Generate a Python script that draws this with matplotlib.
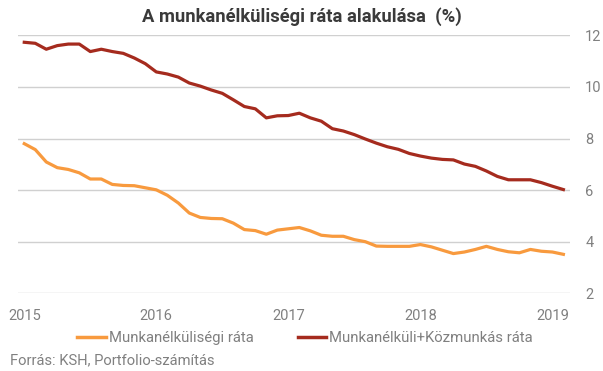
import numpy as np
import matplotlib
matplotlib.use('Agg')
import matplotlib.pyplot as plt
from matplotlib.lines import Line2D

# monthly data, Jan 2015 - Feb 2019
years = ['2015', '2016', '2017', '2018', '2019']
unemp = [7.8, 7.57, 7.09, 6.87, 6.8, 6.67, 6.43, 6.43, 6.22, 6.18, 6.17, 6.09,
         6.01, 5.8, 5.5, 5.11, 4.94, 4.9, 4.89, 4.72, 4.47, 4.43, 4.29, 4.45,
         4.5, 4.55, 4.42, 4.25, 4.21, 4.21, 4.08, 4.0, 3.83, 3.82, 3.82, 3.82,
         3.89, 3.8, 3.67, 3.54, 3.6, 3.7, 3.82, 3.7, 3.61, 3.57, 3.7, 3.63,
         3.6, 3.51]
unemp_pub = [11.73, 11.69, 11.46, 11.6, 11.66, 11.66, 11.37, 11.46, 11.37, 11.3, 11.12, 10.9,
             10.58, 10.5, 10.38, 10.15, 10.03, 9.88, 9.75, 9.5, 9.24, 9.15, 8.8, 8.88,
             8.89, 8.98, 8.8, 8.67, 8.38, 8.29, 8.15, 7.98, 7.82, 7.68, 7.58, 7.42,
             7.32, 7.24, 7.19, 7.17, 7.01, 6.92, 6.74, 6.53, 6.4, 6.4, 6.4, 6.29,
             6.15, 6.02]
label1 = 'Munkanélküliségi ráta'
label2 = 'Munkanélküli+Közmunkás ráta'

orange = '#f89a3e'
red = '#a52b1e'

plt.rcParams['font.family'] = ['Roboto', 'DejaVu Sans']

fig = plt.figure(figsize=(6.03, 3.71), dpi=100)
ax = fig.add_axes([18/603, 1 - 293.3/371, (570-18)/603, (293.3-35.3)/371])

months = np.arange(len(unemp))
ax.plot(months, unemp, color=orange, lw=2.3, solid_joinstyle='round')
ax.plot(months, unemp_pub, color=red, lw=2.3, solid_joinstyle='round')

ax.set_xlim(-0.57, 49.6)
ax.set_ylim(2, 12)
ax.set_yticks([2, 4, 6, 8, 10, 12])
ax.set_xticks(np.arange(len(years)) * 12)
ax.set_xticklabels(years)
ax.yaxis.tick_right()
ax.grid(axis='y', color='#d0d0d0', lw=1)
ax.set_axisbelow(True)
for s in ax.spines.values():
    s.set_visible(False)
ax.tick_params(axis='both', length=0, labelsize=10.5, colors='#808080')
ax.tick_params(axis='y', pad=11)
ax.tick_params(axis='x', pad=11)

fig.text(0.5, 1 - 17/371, 'A munkanélküliségi ráta alakulása  (%)', ha='center', va='center',
         fontsize=13.2, fontweight='bold', color='#3a3a3a')

handles = [Line2D([], [], color=orange, lw=2.5), Line2D([], [], color=red, lw=2.5)]
fig.legend(handles, [label1, label2], loc='center', bbox_to_anchor=(305/603, 1 - 338/371),
           ncol=2, frameon=False, fontsize=10.7, labelcolor='#808080',
           handlelength=1.9, handletextpad=0.2, columnspacing=3.0)

fig.text(10/603, 1 - 360/371, 'Forrás: KSH, Portfolio-számítás', ha='left', va='center',
         fontsize=10.6, color='#808080')

fig.savefig('out.png', dpi=100)
